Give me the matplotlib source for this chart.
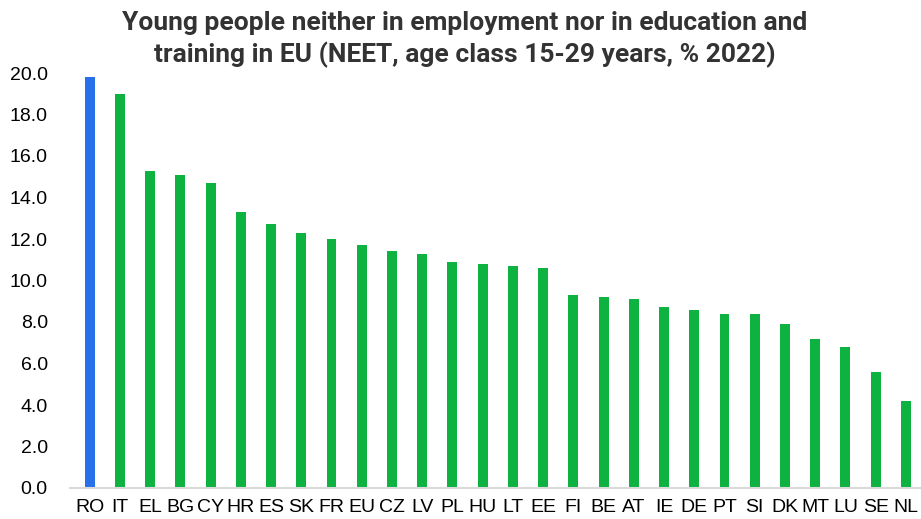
import matplotlib
matplotlib.use("Agg")
import matplotlib.pyplot as plt

# NEET rate, age 15-29, 2022
countries = ["RO", "IT", "EL", "BG", "CY", "HR", "ES", "SK", "FR", "EU", "CZ", "LV", "PL", "HU",
             "LT", "EE", "FI", "BE", "AT", "IE", "DE", "PT", "SI", "DK", "MT", "LU", "SE", "NL"]
values = [19.8, 19.0, 15.3, 15.1, 14.7, 13.3, 12.7, 12.3, 12.0, 11.7, 11.4, 11.3, 10.9, 10.8,
          10.7, 10.6, 9.3, 9.2, 9.1, 8.7, 8.6, 8.4, 8.4, 7.9, 7.2, 6.8, 5.6, 4.2]
highlight = "RO"
yticks = [0, 2, 4, 6, 8, 10, 12, 14, 16, 18, 20]

colors = ["#2870EA" if c == highlight else "#0DB240" for c in countries]

fig = plt.figure(figsize=(9.21, 5.19), dpi=100)
ax = fig.add_axes([70 / 921, 31 / 519, 851 / 921, 415 / 519])

ax.bar(range(len(countries)), values, width=0.33, color=colors)

ax.set_xlim(-0.65, len(countries) - 0.5)
ax.set_ylim(0, 20)
ax.set_yticks(yticks)
ax.set_yticklabels([f"{v:.1f}" for v in yticks], fontsize=14, family="Liberation Sans")
ax.set_xticks(range(len(countries)))
ax.set_xticklabels(countries, fontsize=14, family="Liberation Sans")
ax.tick_params(length=0, pad=8)
ax.tick_params(axis="y", pad=16)

for s in ["top", "right", "left"]:
    ax.spines[s].set_visible(False)
ax.spines["bottom"].set_color("#D9D9D9")
ax.spines["bottom"].set_linewidth(1.5)

fig.text(0.505, 0.978, "Young people neither in employment nor in education and\n"
         "training in EU (NEET, age class 15-29 years, % 2022)",
         ha="center", va="top", fontsize=19, fontweight="bold", color="#333333",
         family="Roboto", linespacing=1.3)

fig.savefig("out.png", dpi=100)
